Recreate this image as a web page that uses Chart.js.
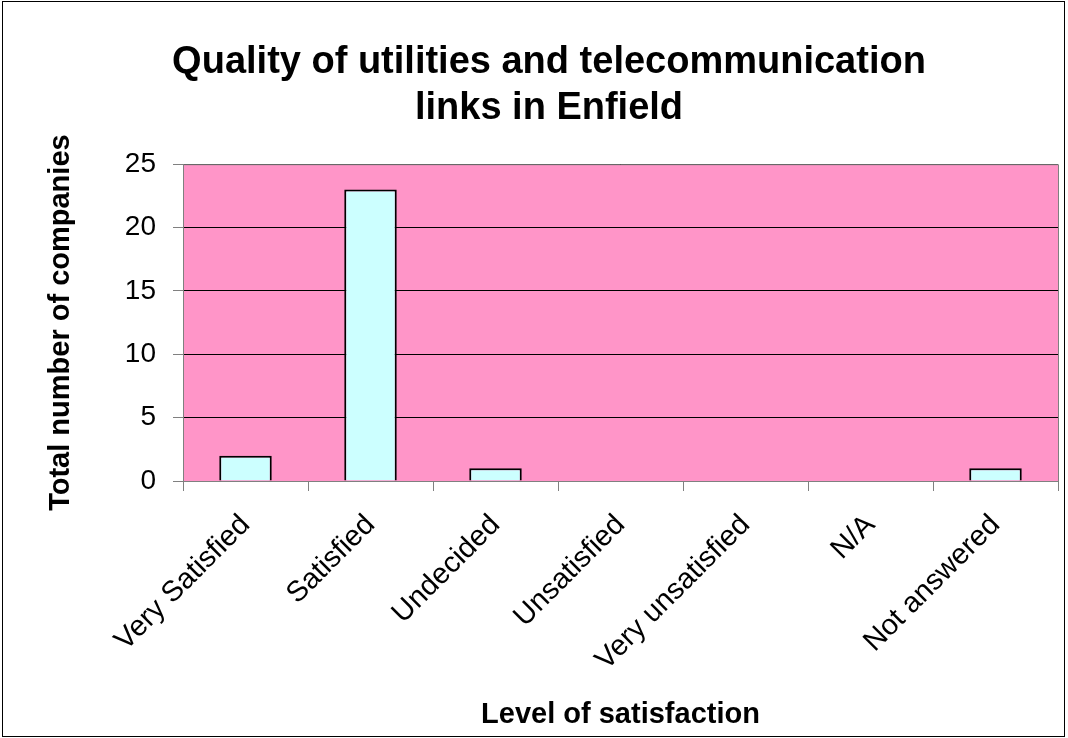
<!DOCTYPE html>
<html>
<head>
<meta charset="utf-8">
<script src="https://cdn.jsdelivr.net/npm/chart.js@4/dist/chart.umd.min.js"></script>
<style>
  body { margin: 0; background: #fff; }
  #box { position: absolute; left: 2px; top: 1px; width: 1063px; height: 736px; border: 1px solid #000; box-sizing: border-box; }
  canvas { position: absolute; left: -3px; top: -2px; }
</style>
</head>
<body>
<div id="box"><canvas id="chart" width="1068" height="738"></canvas></div>
<script>
// Quality of utilities and telecommunication links - bar chart

const categories = ['Very Satisfied', 'Satisfied', 'Undecided', 'Unsatisfied', 'Very unsatisfied', 'N/A', 'Not answered'];
const companyCounts = [2, 23, 1, 0, 0, 0, 1];
const yTicks = [0, 5, 10, 15, 20, 25];

const FONT = "'Liberation Sans', Arial, sans-serif";

// paint the pink plot area and its grey frame
const plotBackground = {
  id: 'plotBackground',
  beforeDraw(chart) {
    const { ctx, chartArea: a } = chart;
    ctx.save();
    ctx.fillStyle = '#FF95C8';
    ctx.fillRect(a.left, a.top, a.right - a.left, a.bottom - a.top);
    ctx.restore();
  },
  afterDatasetsDraw(chart) {
    const { ctx, chartArea: a } = chart;
    ctx.save();
    ctx.strokeStyle = '#808080';
    ctx.lineWidth = 1;
    ctx.beginPath();
    ctx.moveTo(a.left, a.top + 0.5);
    ctx.lineTo(a.right + 0.5, a.top + 0.5);
    ctx.lineTo(a.right + 0.5, a.bottom);
    ctx.stroke();
    ctx.restore();
  }
};

new Chart(document.getElementById('chart'), {
  type: 'bar',
  data: {
    labels: categories,
    datasets: [{
      data: companyCounts,
      backgroundColor: '#CCFFFF',
      borderColor: '#000',
      borderWidth: 2,
      categoryPercentage: 1,
      barPercentage: 0.42,
    }],
  },
  options: {
    responsive: false,
    animation: false,
    layout: { padding: { left: 40, right: 10, top: 0, bottom: 8.5 } },
    plugins: {
      legend: { display: false },
      tooltip: { enabled: false },
      title: {
        display: true,
        text: ['Quality of utilities and telecommunication', 'links in Enfield'],
        color: '#000',
        font: { family: FONT, size: 38, weight: 'bold', lineHeight: 1.2 },
        padding: { top: 40, bottom: 33 },
      },
    },
    scales: {
      x: {
        offset: true,
        afterFit(scale) { scale.height = 248.5; },
        grid: { display: true, drawOnChartArea: false, offset: true, color: '#808080', tickLength: 10 },
        border: { color: '#808080' },
        ticks: { color: '#000', font: { family: FONT, size: 29 }, minRotation: 45, maxRotation: 45, padding: 17 },
        title: { display: true, text: 'Level of satisfaction', color: '#000', font: { family: FONT, size: 29, weight: 'bold', lineHeight: 1.0 }, padding: { top: 0, bottom: 0 } },
      },
      y: {
        min: 0,
        max: 25,
        afterBuildTicks(axis) { axis.ticks = yTicks.map(v => ({ value: v })); },
        afterFit(scale) { scale.width = 143; },
        grid: { color: '#000', tickColor: '#808080', tickLength: 10 },
        border: { color: '#808080' },
        ticks: { color: '#000', font: { family: FONT, size: 28 }, padding: 17 },
        title: { display: true, text: 'Total number of companies', color: '#000', font: { family: FONT, size: 29, weight: 'bold' }, padding: { top: 4, bottom: 4 } },
      },
    },
  },
  plugins: [plotBackground],
});
</script>
</body>
</html>
